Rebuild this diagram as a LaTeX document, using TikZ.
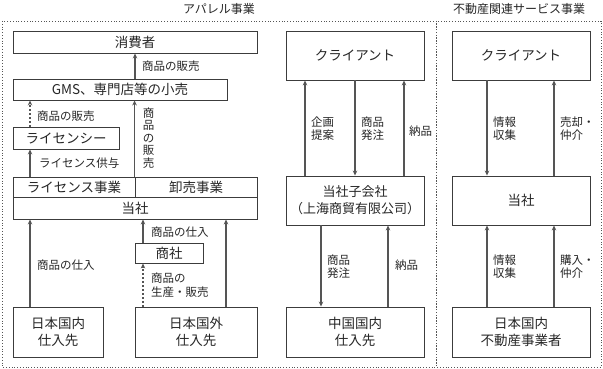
\documentclass[tikz,border=0pt]{standalone}
\usepackage{fontspec}
\setmainfont{Noto Sans CJK JP}
\usetikzlibrary{arrows.meta}
\definecolor{linegray}{HTML}{555555}
\definecolor{boxgray}{HTML}{3C3C3C}

\begin{document}
\begin{tikzpicture}[x=1pt, y=-1pt,
  box/.style={draw=boxgray, line width=0.9pt, inner sep=0pt, align=center,
    font=\fontsize{13.5}{17}\selectfont, text=black!85},
  lbl/.style={inner sep=0pt, align=left, font=\fontsize{11.5}{13.5}\selectfont, text=black!85},
  arr/.style={draw=linegray, line width=1.1pt, -{Stealth[length=5pt, width=4.5pt]}},
  dsh/.style={dash pattern=on 2pt off 2pt},
  frame/.style={draw=linegray, dotted, line width=0.8pt}]

\useasboundingbox (0,0) rectangle (603,369);

\draw[frame] (2,21) rectangle (436,367);
\draw[frame] (436,21) rectangle (601,367);
\node[lbl, font=\fontsize{12}{13}\selectfont] (tapparel) at (219,9) {アパレル事業};
\node[lbl, font=\fontsize{12}{13}\selectfont] (trealty) at (519,9) {不動産関連サービス事業};

\coordinate (xa) at (30,0);
\coordinate (xb) at (143,0);
\coordinate (xc) at (226,0);
\coordinate (xd) at (305,0);
\coordinate (xe) at (355,0);
\coordinate (xf) at (404,0);
\coordinate (xg) at (321,0);
\coordinate (xh) at (388,0);
\coordinate (xi) at (487,0);
\coordinate (xj) at (554,0);

\node[box, minimum width=244pt, minimum height=22pt] (consumer) at (135,42) {消費者};
\node[box, minimum width=214pt, minimum height=21pt] (gms) at (120,89.5) {GMS、専門店等の小売};
\node[box, minimum width=106pt, minimum height=22pt] (licensee) at (66,138) {ライセンシー};
\node[box, minimum width=122pt, minimum height=20pt] (licbiz) at (74,187) {ライセンス事業};
\node[box, minimum width=122pt, minimum height=20pt] (wholesale) at (196,187) {卸売事業};
\node[box, minimum width=244pt, minimum height=22pt] (tosha) at (135,208) {当社};
\node[box, minimum width=68pt, minimum height=20pt] (shosha) at (169,253) {商社};
\node[box, minimum width=90pt, minimum height=50pt] (jpdom) at (58,332) {日本国内\\仕入先};
\node[box, minimum width=122pt, minimum height=50pt] (jpfor) at (196,332) {日本国外\\仕入先};

\node[box, minimum width=138pt, minimum height=49pt] (client1) at (355,55.5) {クライアント};
\node[box, minimum width=138pt, minimum height=49pt, font=\fontsize{13}{17}\selectfont] (sub) at (355,200.5) {当社子会社\\（上海商貿有限公司）};
\node[box, minimum width=138pt, minimum height=50pt] (cn) at (355,332) {中国国内\\仕入先};

\node[box, minimum width=138pt, minimum height=49pt] (client2) at (521,55.5) {クライアント};
\node[box, minimum width=138pt, minimum height=49pt] (tosha2) at (521,200.5) {当社};
\node[box, minimum width=138pt, minimum height=50pt] (realty) at (521,332) {日本国内\\不動産事業者};

\draw[arr] (gms.north -| consumer.south) -- (consumer.south);
\draw[arr, dsh] (licensee.north -| xa) -- (gms.south -| xa);
\draw[arr] (wholesale.north west) -- (gms.south -| wholesale.north west);
\draw[arr] (licbiz.north -| xa) -- (licensee.south -| xa);
\draw[arr] (jpdom.north -| xa) -- (tosha.south -| xa);
\draw[arr] (shosha.north -| xb) -- (tosha.south -| xb);
\draw[arr, dsh] (jpfor.north -| xb) -- (shosha.south -| xb);
\draw[arr] (jpfor.north -| xc) -- (tosha.south -| xc);

\draw[arr] (sub.north -| xd) -- (client1.south -| xd);
\draw[arr] (client1.south -| xe) -- (sub.north -| xe);
\draw[arr] (sub.north -| xf) -- (client1.south -| xf);
\draw[arr] (sub.south -| xg) -- (cn.north -| xg);
\draw[arr] (cn.north -| xh) -- (sub.south -| xh);

\draw[arr] (client2.south -| xi) -- (tosha2.north -| xi);
\draw[arr] (tosha2.north -| xj) -- (client2.south -| xj);
\draw[arr] (realty.north -| xi) -- (tosha2.south -| xi);
\draw[arr] (realty.north -| xj) -- (tosha2.south -| xj);

\node[lbl, anchor=west] (sale1) at (142,66) {商品の販売};
\node[lbl, anchor=west] (sale2) at (37,116) {商品の販売};
\node[lbl, align=center, font=\fontsize{11.5}{12.5}\selectfont] (sale3) at (148.5,138) {商\\品\\の\\販\\売};
\node[lbl, anchor=west] (grant) at (39,163) {ライセンス供与};
\node[lbl, anchor=west] (buy1) at (37,265) {商品の仕入};
\node[lbl, anchor=west] (buy2) at (151,232) {商品の仕入};
\node[lbl, anchor=west] (make) at (151,285) {商品の\\生産・販売};

\node[lbl, anchor=west] (plan) at (311,128.5) {企画\\提案};
\node[lbl, anchor=west] (order1) at (361,128.5) {商品\\発注};
\node[lbl, anchor=west] (deliv1) at (409,131) {納品};
\node[lbl, anchor=west] (order2) at (327,266.5) {商品\\発注};
\node[lbl, anchor=west] (deliv2) at (395,265) {納品};

\node[lbl, anchor=west] (info1) at (493,128.5) {情報\\収集};
\node[lbl, anchor=west] (sell) at (560,128.5) {売却・\\仲介};
\node[lbl, anchor=west] (info2) at (493,266.5) {情報\\収集};
\node[lbl, anchor=west] (purch) at (560,266.5) {購入・\\仲介};
\end{tikzpicture}
\end{document}
